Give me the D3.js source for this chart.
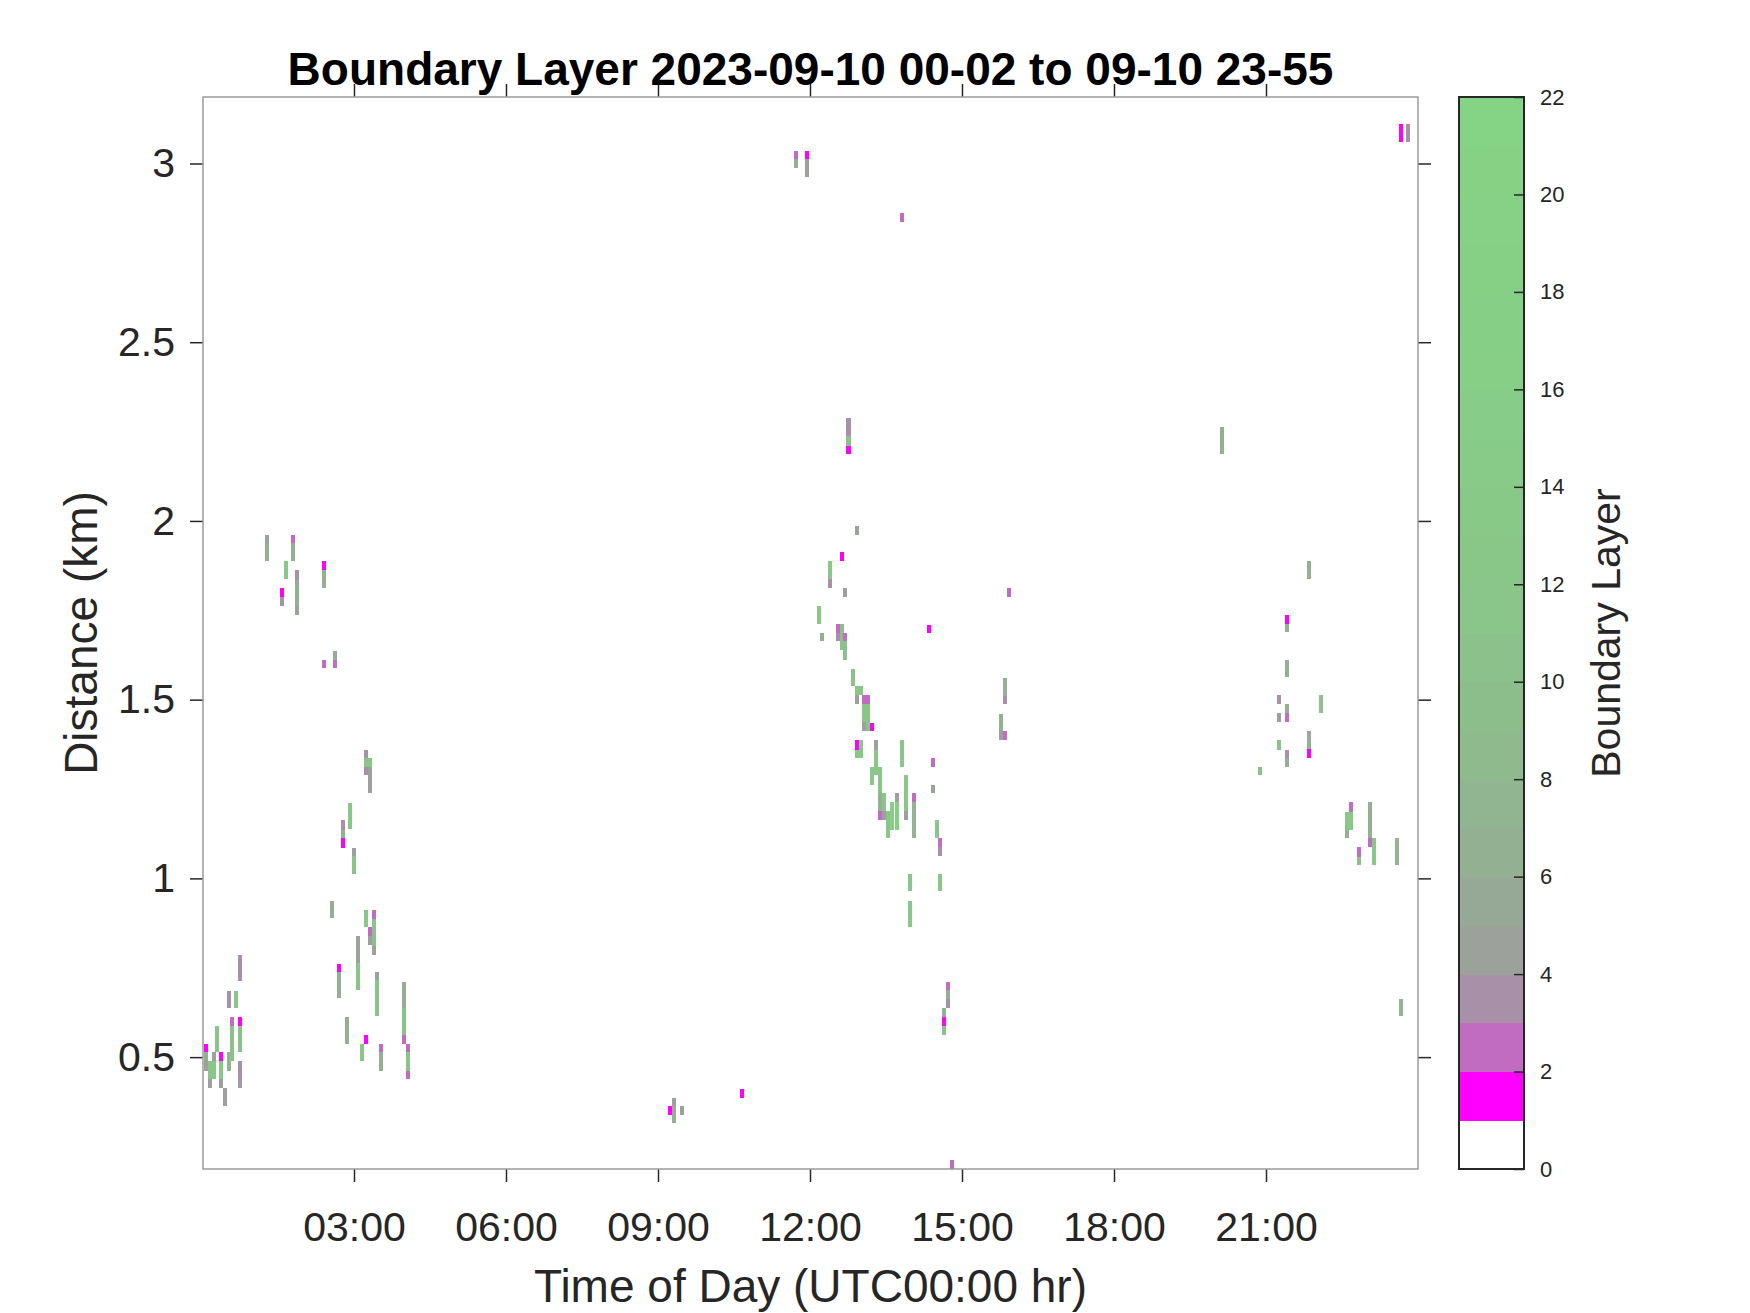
<!DOCTYPE html>
<html>
<head>
<meta charset="utf-8">
<script src="https://cdn.jsdelivr.net/npm/d3@7"></script>
<style>
body { margin: 0; background: #fff; }
svg text { font-family: "Liberation Sans", Arial, Helvetica, sans-serif; fill: #262626; }
</style>
</head>
<body>
<script>
// tick values
var hourTicks = [3, 6, 9, 12, 15, 18, 21];
var kmTicks = [0.5, 1, 1.5, 2, 2.5, 3];
var levelTicks = [0, 2, 4, 6, 8, 10, 12, 14, 16, 18, 20, 22];

// one level per colour band (0-1, 1-2 ... 21-22)
var palette = ["#ffffff", "#ff00ff", "#c16bc1", "#a990a9", "#9ca19c", "#96a896",
  "#93b093", "#91b591", "#8eba8e", "#8cbe8c", "#8bc28b", "#8ac58a", "#89c789",
  "#88c988", "#88cb88", "#87cd87", "#87ce87", "#86cf86", "#86d086", "#85d185",
  "#85d285", "#85d385"];

// [hour of day, gate bottom km, gate top km, boundary layer level]
var nightCells = [
  [0.07, 0.513, 0.537, 1.5], [0.07, 0.488, 0.513, 6], [0.07, 0.462, 0.488, 4.5],
  [0.16, 0.438, 0.488, 12], [0.16, 0.413, 0.438, 4.5],
  [0.23, 0.488, 0.513, 4.5], [0.23, 0.438, 0.488, 12],
  [0.30, 0.513, 0.588, 12],
  [0.38, 0.488, 0.513, 1.5], [0.38, 0.438, 0.488, 12], [0.38, 0.413, 0.438, 4.5],
  [0.45, 0.362, 0.413, 4.5],
  [0.53, 0.637, 0.686, 3.5], [0.53, 0.462, 0.513, 7],
  [0.60, 0.588, 0.613, 2.5], [0.60, 0.488, 0.588, 10],
  [0.67, 0.637, 0.686, 12],
  [0.75, 0.712, 0.786, 3.5], [0.75, 0.588, 0.613, 1.5], [0.75, 0.513, 0.588, 10],
  [0.75, 0.438, 0.488, 3.5], [0.75, 0.413, 0.438, 4.5],
  [1.28, 1.937, 1.962, 4.5], [1.28, 1.887, 1.937, 6],
  [1.58, 1.786, 1.811, 1.5], [1.58, 1.761, 1.786, 3.5],
  [1.66, 1.837, 1.887, 12],
  [1.80, 1.937, 1.962, 2.5], [1.80, 1.887, 1.937, 6],
  [1.88, 1.836, 1.862, 3.5], [1.88, 1.761, 1.836, 6], [1.88, 1.736, 1.761, 4.5],
  [2.41, 1.862, 1.887, 1.5], [2.41, 1.812, 1.862, 6], [2.41, 1.588, 1.612, 2.5],
  [2.62, 1.612, 1.637, 6], [2.62, 1.588, 1.612, 2.5],
  [3.24, 1.337, 1.360, 3.5], [3.24, 1.312, 1.337, 12], [3.24, 1.288, 1.312, 3.5],
  [3.32, 1.312, 1.337, 12], [3.32, 1.239, 1.312, 4.5],
  [2.93, 1.138, 1.211, 12],
  [2.78, 1.136, 1.162, 3.5], [2.78, 1.112, 1.136, 6], [2.78, 1.086, 1.112, 1.5],
  [3.00, 1.062, 1.086, 4.5], [3.00, 1.013, 1.062, 12],
  [2.56, 0.888, 0.937, 6],
  [3.24, 0.863, 0.912, 12],
  [3.39, 0.886, 0.912, 2.5], [3.39, 0.811, 0.886, 10], [3.39, 0.787, 0.811, 4.5],
  [3.31, 0.838, 0.863, 2.5], [3.31, 0.813, 0.838, 4.5],
  [3.08, 0.763, 0.838, 4.5], [3.08, 0.688, 0.763, 12],
  [2.70, 0.737, 0.761, 1.5], [2.70, 0.665, 0.737, 6],
  [3.46, 0.716, 0.737, 4.5], [3.46, 0.614, 0.716, 12],
  [3.99, 0.637, 0.711, 6], [3.99, 0.562, 0.637, 10], [3.99, 0.537, 0.562, 2.5],
  [4.07, 0.513, 0.537, 2.5], [4.07, 0.462, 0.513, 12], [4.07, 0.438, 0.462, 2.5],
  [2.86, 0.538, 0.613, 6],
  [3.24, 0.537, 0.562, 1.5],
  [3.16, 0.488, 0.537, 12],
  [3.53, 0.513, 0.537, 2.5], [3.53, 0.462, 0.513, 6]
];

var noonCells = [
  [9.24, 0.338, 0.362, 1.5],
  [9.32, 0.362, 0.386, 4.5], [9.32, 0.315, 0.362, 6],
  [9.47, 0.338, 0.362, 4.5],
  [10.66, 0.386, 0.412, 1.5],
  [11.72, 3.012, 3.034, 2.5], [11.72, 2.987, 3.012, 6],
  [11.94, 3.012, 3.034, 1.5], [11.94, 2.962, 3.012, 4.5],
  [13.82, 2.836, 2.861, 2.5],
  [12.76, 2.237, 2.287, 3.5], [12.76, 2.211, 2.237, 10], [12.76, 2.186, 2.211, 1.5],
  [12.93, 1.962, 1.987, 4.5],
  [12.63, 1.887, 1.913, 1.5],
  [12.39, 1.837, 1.887, 12], [12.39, 1.812, 1.837, 3.5],
  [12.69, 1.787, 1.812, 4.5],
  [12.18, 1.711, 1.761, 12],
  [12.24, 1.663, 1.687, 6],
  [12.55, 1.687, 1.711, 2.5], [12.55, 1.663, 1.687, 3.5],
  [12.63, 1.638, 1.711, 10],
  [12.69, 1.663, 1.687, 2.5], [12.69, 1.612, 1.663, 10],
  [12.85, 1.538, 1.586, 10],
  [12.93, 1.512, 1.538, 12], [12.93, 1.487, 1.512, 4.5],
  [13.00, 1.512, 1.538, 12],
  [13.07, 1.487, 1.512, 2.5], [13.07, 1.437, 1.487, 12], [13.07, 1.412, 1.437, 4.5],
  [13.15, 1.487, 1.512, 2.5], [13.15, 1.412, 1.487, 12],
  [13.22, 1.412, 1.435, 1.5],
  [12.93, 1.360, 1.386, 1.5], [12.93, 1.337, 1.360, 12],
  [13.00, 1.337, 1.386, 12],
  [13.30, 1.360, 1.386, 4.5], [13.30, 1.288, 1.360, 12],
  [13.22, 1.262, 1.312, 12],
  [13.38, 1.239, 1.312, 12], [13.38, 1.188, 1.239, 6], [13.38, 1.162, 1.188, 2.5],
  [13.46, 1.188, 1.239, 12], [13.46, 1.162, 1.188, 4.5],
  [13.54, 1.113, 1.188, 12],
  [13.62, 1.136, 1.213, 18],
  [13.71, 1.213, 1.239, 4.5], [13.71, 1.136, 1.213, 18],
  [13.82, 1.312, 1.386, 12],
  [13.89, 1.188, 1.288, 12], [13.89, 1.162, 1.188, 4.5],
  [14.05, 1.213, 1.239, 2.5], [14.05, 1.113, 1.213, 7],
  [13.97, 0.964, 1.013, 12], [13.97, 0.864, 0.938, 12],
  [14.43, 1.312, 1.337, 2.5], [14.43, 1.239, 1.262, 4.5],
  [14.35, 1.687, 1.710, 1.5],
  [14.50, 1.113, 1.162, 12],
  [14.57, 1.088, 1.113, 2.5], [14.57, 1.062, 1.088, 3.5], [14.57, 0.964, 1.013, 12],
  [14.72, 0.688, 0.711, 2.5], [14.72, 0.662, 0.688, 6], [14.72, 0.638, 0.662, 3.5],
  [14.64, 0.613, 0.638, 6], [14.64, 0.588, 0.613, 1.5], [14.64, 0.563, 0.588, 10],
  [14.80, 0.187, 0.212, 2.5],
  [15.92, 1.787, 1.812, 2.5],
  [15.85, 1.511, 1.561, 6], [15.85, 1.487, 1.511, 3.5], [15.85, 1.386, 1.412, 2.5],
  [15.77, 1.412, 1.461, 6], [15.77, 1.386, 1.412, 4.5]
];

var eveningCells = [
  [20.13, 2.186, 2.263, 6],
  [20.88, 1.288, 1.312, 10],
  [21.26, 1.487, 1.512, 3.5], [21.26, 1.437, 1.462, 4.5], [21.26, 1.360, 1.387, 10],
  [21.41, 1.712, 1.736, 1.5], [21.41, 1.689, 1.712, 6], [21.41, 1.563, 1.612, 6],
  [21.41, 1.462, 1.487, 6], [21.41, 1.437, 1.462, 2.5],
  [21.41, 1.336, 1.360, 3.5], [21.41, 1.312, 1.336, 6],
  [21.85, 1.837, 1.887, 6], [21.85, 1.361, 1.411, 6], [21.85, 1.337, 1.361, 1.5],
  [22.08, 1.462, 1.512, 10],
  [22.60, 1.136, 1.187, 12], [22.60, 1.113, 1.136, 6],
  [22.68, 1.187, 1.213, 2.5], [22.68, 1.136, 1.187, 14],
  [22.83, 1.061, 1.087, 2.5], [22.83, 1.037, 1.061, 10],
  [23.06, 1.113, 1.213, 6], [23.06, 1.087, 1.113, 2.5],
  [23.14, 1.037, 1.113, 12],
  [23.58, 1.037, 1.113, 7],
  [23.66, 0.614, 0.663, 7],
  [23.66, 3.060, 3.110, 1.5], [23.81, 3.060, 3.110, 3.5]
];

var profileStep = 0.08; // hours per profile column

function drawChart() {
  var W = 1750, H = 1313;
  var pLeft = 203, pRight = 1418, pTop = 97, pBottom = 1169;

  var svg = d3.select("body").append("svg")
    .attr("width", W).attr("height", H);

  var x = d3.scaleLinear().domain([0.02, 24]).range([pLeft, pRight]);
  var y = d3.scaleLinear().domain([0.187, 3.186]).range([pBottom, pTop]);
  var color = d3.scaleThreshold().domain(d3.range(1, 22)).range(palette);

  svg.append("clipPath").attr("id", "plotclip")
    .append("rect").attr("x", pLeft).attr("y", pTop)
    .attr("width", pRight - pLeft).attr("height", pBottom - pTop);

  // cells
  var cells = nightCells.concat(noonCells, eveningCells);
  svg.append("g").attr("clip-path", "url(#plotclip)")
    .attr("shape-rendering", "crispEdges")
    .selectAll("rect").data(cells).enter().append("rect")
    .attr("x", function (d) { return x(d[0] - profileStep / 2); })
    .attr("width", function (d) { return x(d[0] + profileStep / 2) - x(d[0] - profileStep / 2); })
    .attr("y", function (d) { return y(d[2]); })
    .attr("height", function (d) { return y(d[1]) - y(d[2]); })
    .attr("fill", function (d) { return color(d[3]); });

  // axes
  function styleAxis(g) {
    g.select(".domain").remove();
    g.selectAll(".tick line").attr("stroke", "#262626").attr("stroke-width", 1.5);
    g.selectAll(".tick text").attr("fill", "#262626");
  }
  var hourFmt = function (h) { return (h < 10 ? "0" : "") + h + ":00"; };

  svg.append("g").attr("transform", "translate(0," + pBottom + ")")
    .call(d3.axisBottom(x).tickValues(hourTicks).tickFormat(hourFmt).tickSize(13).tickPadding(30))
    .attr("font-size", 41).call(styleAxis);
  svg.append("g").attr("transform", "translate(0," + pTop + ")")
    .call(d3.axisTop(x).tickValues(hourTicks).tickFormat("").tickSize(13))
    .call(styleAxis);
  svg.append("g").attr("transform", "translate(" + pLeft + ",0)")
    .call(d3.axisLeft(y).tickValues(kmTicks).tickFormat(function (d) { return String(d); }).tickSize(13).tickPadding(15))
    .attr("font-size", 41).call(styleAxis);
  svg.append("g").attr("transform", "translate(" + pRight + ",0)")
    .call(d3.axisRight(y).tickValues(kmTicks).tickFormat("").tickSize(13))
    .call(styleAxis);

  svg.append("rect").attr("x", pLeft).attr("y", pTop)
    .attr("width", pRight - pLeft).attr("height", pBottom - pTop)
    .attr("fill", "none").attr("stroke", "#9a9a9a").attr("stroke-width", 1.5);

  // titles
  svg.append("text").attr("x", (pLeft + pRight) / 2).attr("y", 85)
    .attr("text-anchor", "middle").attr("font-size", 46).attr("font-weight", "bold")
    .style("fill", "#000")
    .text("Boundary Layer 2023-09-10 00-02 to 09-10 23-55");
  svg.append("text").attr("x", (pLeft + pRight) / 2).attr("y", 1302)
    .attr("text-anchor", "middle").attr("font-size", 46)
    .text("Time of Day (UTC00:00 hr)");
  svg.append("text").attr("transform", "translate(97," + (pTop + pBottom) / 2 + ") rotate(-90)")
    .attr("text-anchor", "middle").attr("font-size", 46)
    .text("Distance (km)");

  // colorbar
  var cbLeft = 1459, cbRight = 1524;
  var cy = d3.scaleLinear().domain([0, 22]).range([pBottom, pTop]);
  svg.append("g").attr("shape-rendering", "crispEdges")
    .selectAll("rect").data(palette).enter().append("rect")
    .attr("x", cbLeft).attr("width", cbRight - cbLeft)
    .attr("y", function (d, i) { return cy(i + 1); })
    .attr("height", function (d, i) { return cy(i) - cy(i + 1) + 0.5; })
    .attr("fill", function (d) { return d; });
  svg.append("g").attr("transform", "translate(" + cbRight + ",0)")
    .call(d3.axisRight(cy).tickValues(levelTicks).tickSizeInner(-10).tickSizeOuter(0).tickPadding(16))
    .attr("font-size", 22).call(styleAxis);
  svg.append("rect").attr("x", cbLeft).attr("y", pTop)
    .attr("width", cbRight - cbLeft).attr("height", pBottom - pTop)
    .attr("fill", "none").attr("stroke", "#262626").attr("stroke-width", 2);
  svg.append("text").attr("transform", "translate(1620," + (pTop + pBottom) / 2 + ") rotate(-90)")
    .attr("text-anchor", "middle").attr("font-size", 41)
    .text("Boundary Layer");
}

drawChart();
</script>
</body>
</html>
